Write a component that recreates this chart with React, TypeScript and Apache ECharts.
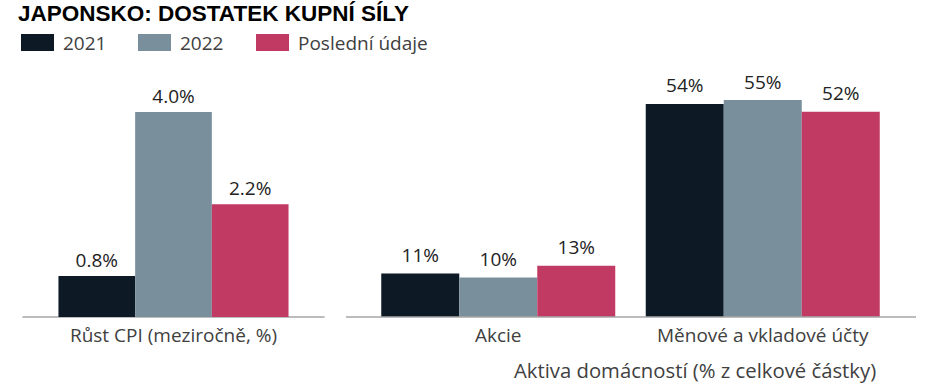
import React, { useEffect, useRef } from "react";
import * as echarts from "echarts";

const seriesNames = ["2021", "2022", "Poslední údaje"];
const colors = ["#0e1926", "#7a8f9c", "#c13a63"];

const cpiCategories = ["Růst CPI (meziročně, %)"];
const cpi2021 = [0.8];
const cpi2022 = [4.0];
const cpiLatest = [2.2];

const assetCategories = ["Akcie", "Měnové a vkladové účty"];
const assets2021 = [11, 54];
const assets2022 = [10, 55];
const assetsLatest = [13, 52];

const titleText = "JAPONSKO: DOSTATEK KUPNÍ SÍLY";
const assetAxisTitle = "Aktiva domácností (% z celkové částky)";

const FONT = "'Open Sans', 'DejaVu Sans', sans-serif";

export default function App() {
  const ref = useRef<HTMLDivElement>(null);
  useEffect(() => {
    document.body.style.margin = "0";
    if (!ref.current) return;
    const chart = echarts.init(ref.current, undefined, { renderer: "svg" });
    const labelStyle = {
      show: true,
      position: "top",
      fontSize: 19,
      fontFamily: FONT,
      color: "#222222",
    };
    const cpiData = [cpi2021, cpi2022, cpiLatest];
    const assetData = [assets2021, assets2022, assetsLatest];
    const series: any[] = [];
    seriesNames.forEach((name, i) => {
      series.push({
        type: "bar",
        name,
        xAxisIndex: 0,
        yAxisIndex: 0,
        data: cpiData[i],
        barWidth: 76.7,
        barGap: "0%",
        itemStyle: { color: colors[i] },
        label: { ...labelStyle, distance: 7, formatter: (p: any) => `${Number(p.value).toFixed(1)}%` },
      });
    });
    seriesNames.forEach((name, i) => {
      series.push({
        type: "bar",
        name,
        xAxisIndex: 1,
        yAxisIndex: 1,
        data: assetData[i],
        barWidth: 78,
        barGap: "0%",
        itemStyle: { color: colors[i] },
        label: { ...labelStyle, distance: 9, formatter: (p: any) => `${p.value}%` },
      });
    });
    const legendBase = {
      top: 33,
      padding: 0,
      itemWidth: 33,
      itemHeight: 17,
      icon: "rect",
      textStyle: { fontSize: 19, fontFamily: FONT, color: "#404040", padding: [0, 0, 0, 4] },
    };
    const axisLabel = {
      interval: 0,
      hideOverlap: false,
      margin: 8,
      fontSize: 19,
      fontFamily: FONT,
      color: "#404040",
    };
    const option: any = {
      animation: false,
      textStyle: { fontFamily: FONT },
      title: [
        {
          text: titleText,
          left: 18,
          top: 2,
          padding: 0,
          textStyle: { fontFamily: "'Liberation Sans', Arial, sans-serif", fontWeight: "bold", fontSize: 22.5, color: "#000000" },
        },
        {
          text: assetAxisTitle,
          left: 514,
          top: 360,
          padding: 0,
          textStyle: { fontFamily: FONT, fontWeight: "normal", fontSize: 20.3, color: "#404040" },
        },
      ],
      legend: seriesNames.map((n, i) => ({ ...legendBase, left: [21, 138, 256][i], data: [n] })),
      grid: [
        { left: 23, width: 301, top: 112, height: 205 },
        { left: 366, width: 529, top: 100, height: 217 },
      ],
      xAxis: [
        {
          type: "category",
          gridIndex: 0,
          data: cpiCategories,
          axisLine: { lineStyle: { color: "#a6a6a6", width: 1.5 } },
          axisTick: { show: false },
          axisLabel,
        },
        {
          type: "category",
          gridIndex: 1,
          data: assetCategories,
          axisLine: { show: false },
          axisTick: { show: false },
          axisLabel,
        },
      ],
      yAxis: [
        { type: "value", gridIndex: 0, min: 0, max: 4, show: false },
        { type: "value", gridIndex: 1, min: 0, max: 55, show: false },
      ],
      graphic: [
        {
          type: "line",
          shape: { x1: 346, y1: 317, x2: 916, y2: 317 },
          style: { stroke: "#a6a6a6", lineWidth: 1.5 },
          z: 10,
        },
      ],
      series,
    };
    chart.setOption(option);
    return () => chart.dispose();
  }, []);
  return <div ref={ref} style={{ width: 929, height: 392 }} />;
}
